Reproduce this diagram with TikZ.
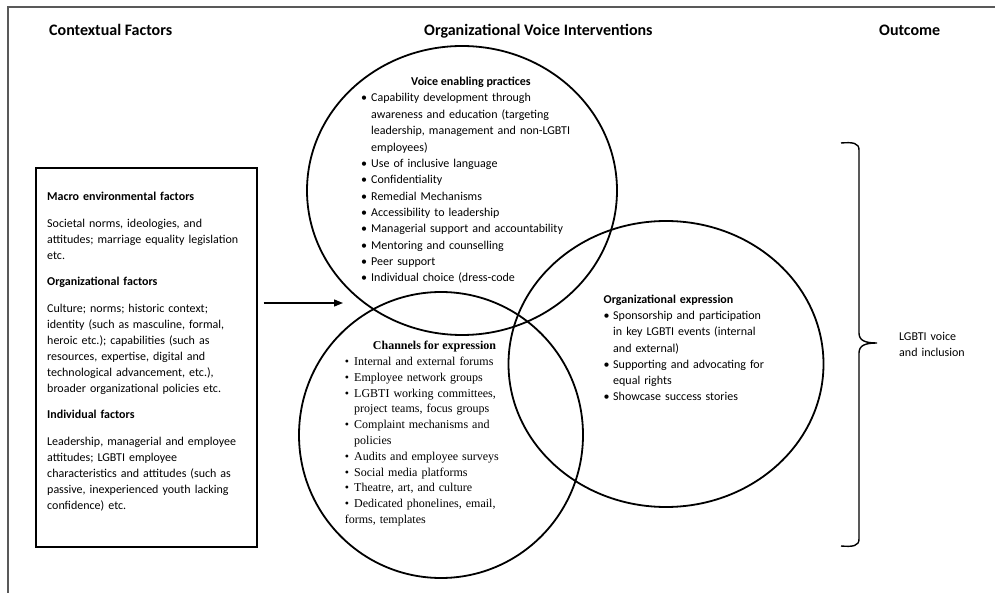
\documentclass[tikz,border=0pt]{standalone}
\usepackage{fontspec}
\setmainfont{Carlito}
\newfontfamily\serifitems{Liberation Serif}
\usetikzlibrary{shapes.geometric,arrows.meta}

% bullet items with hanging indent; #1 = indent of the item text
\newcommand{\firstbul}[1]{\hangindent=#1\hangafter=1\noindent\makebox[#1][l]{\textbullet}}
\newcommand{\bul}[1]{\par\firstbul{#1}}

\begin{document}
\begin{tikzpicture}[x=1pt,y=-1pt,
  frameline/.style={draw=black!65, line width=1.3pt},
  ring/.style={ellipse, draw, line width=1.8pt, inner sep=0pt},
  panel/.style={draw, line width=1.4pt, inner sep=0pt},
  head/.style={font=\bfseries\fontsize{16}{19}\selectfont, anchor=base west, inner sep=0pt},
  body/.style={font=\fontsize{12}{16}\selectfont, anchor=base west, inner sep=0pt, align=left, text width=250pt},
  link/.style={line width=1.4pt, -{Triangle[length=9pt,width=7pt]}},
  bracket/.style={line width=1.4pt}]

\useasboundingbox (0,0) rectangle (995,593);

% outer frame (top and left edges)
\draw[frameline] (995,7) -- (8,7) -- (8,593);

% column headings
\node[head] (hctx) at (49,35.5) {Contextual Factors};
\node[head] (hovi) at (424,35.5) {Organizational Voice Interventions};
\node[head] (hout) at (879,35.5) {Outcome};

% the three overlapping intervention areas
\node[ring, minimum width=310pt, minimum height=289pt] (vep) at (462,190.5) {};
\node[ring, minimum width=284pt, minimum height=286pt] (cfe) at (441,435) {};
\node[ring, minimum width=315pt, minimum height=286pt] (oex) at (666,364) {};

% contextual factors panel
\node[panel, minimum width=221pt, minimum height=379pt] (ctx) at (146.5,357.5) {};
\node[body, text width=205pt] (ctxtext) at (47,201) {\setlength{\parskip}{10.5pt}%
\textbf{Macro environmental factors}\par
Societal norms, ideologies, and\newline attitudes; marriage equality legislation\newline etc.\par
\textbf{Organizational factors}\par
Culture; norms; historic context;\newline identity (such as masculine, formal,\newline heroic etc.); capabilities (such as\newline resources, expertise, digital and\newline technological advancement, etc.),\newline broader organizational policies etc.\par
\textbf{Individual factors}\par
Leadership, managerial and employee\newline attitudes; LGBTI employee\newline characteristics and attitudes (such as\newline passive, inexperienced youth lacking\newline confidence) etc.};

% arrow from the panel into the interventions
\coordinate (arrE) at (343,303);
\draw[link] ([xshift=6pt]ctx.east |- arrE) -- (arrE);

% voice enabling practices
\node[font=\bfseries\fontsize{12}{16}\selectfont, anchor=base, inner sep=0pt] (veph) at (471,86) {Voice enabling practices};
\node[body, font=\fontsize{12}{16.35}\selectfont] (veplist) at (361,102) {%
\firstbul{10pt}Capability development through\newline awareness and education (targeting\newline leadership, management and non-LGBTI\newline employees)
\bul{10pt}Use of inclusive language
\bul{10pt}Confidentiality
\bul{10pt}Remedial Mechanisms
\bul{10pt}Accessibility to leadership
\bul{10pt}Managerial support and accountability
\bul{10pt}Mentoring and counselling
\bul{10pt}Peer support
\bul{10pt}Individual choice (dress-code};

% channels for expression
\node[font=\serifitems\bfseries\fontsize{12}{16}\selectfont, anchor=base, inner sep=0pt] (cfeh) at (434.5,349.5) {Channels for expression};
\node[body, font=\serifitems\fontsize{12}{15.8}\selectfont] (cfelist) at (344.6,365.5) {%
\firstbul{9.4pt}Internal and external forums
\bul{9.4pt}Employee network groups
\bul{9.4pt}LGBTI working committees,\newline project teams, focus groups
\bul{9.4pt}Complaint mechanisms and\newline policies
\bul{9.4pt}Audits and employee surveys
\bul{9.4pt}Social media platforms
\bul{9.4pt}Theatre, art, and culture
\bul{9.4pt}Dedicated phonelines, email,\newline forms, templates};

% organizational expression
\node[body, font=\fontsize{12}{16.2}\selectfont] (oextext) at (603.5,303.5) {%
\textbf{Organizational expression}
\bul{9.5pt}Sponsorship and participation\newline in key LGBTI events (internal\newline and external)
\bul{9.5pt}Supporting and advocating for\newline equal rights
\bul{9.5pt}Showcase success stories};

% outcome bracket and label
\draw[bracket] (841,143) .. controls (853,142) and (859,143) .. (859,150) -- (859,333)
  .. controls (859,341) and (866,343) .. (877,343)
  .. controls (866,343) and (859,345) .. (859,353) -- (859,539)
  .. controls (859,546) and (853,547) .. (841,546);
\node[body, text width=90pt, font=\fontsize{12}{16.5}\selectfont] (outc) at (899,340) {LGBTI voice\newline and inclusion};

\end{tikzpicture}
\end{document}
